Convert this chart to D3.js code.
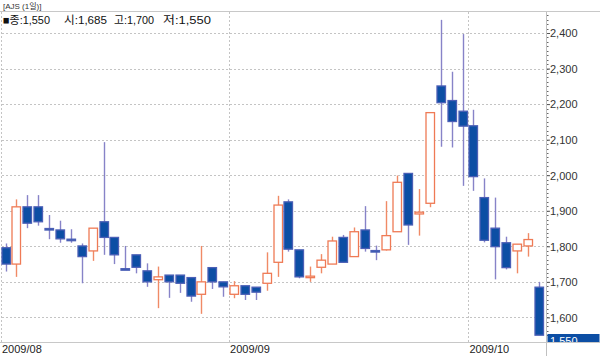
<!DOCTYPE html>
<html><head><meta charset="utf-8">
<script src="https://cdn.jsdelivr.net/npm/d3@7"></script>
<style>
html,body{margin:0;padding:0;background:#fff;}
svg{display:block;font-family:"Liberation Sans","Noto Sans CJK KR",sans-serif;}
</style></head><body>
<svg id="c" width="600" height="356"></svg>
<script>
// ---- data ----
const monthLabels = ["2009/08", "2009/09", "2009/10"];
const monthStartIndex = [0, 21, 43];
const opens  = [1796,1750,1911,1911,1850,1846,1820,1801,1787,1869,1825,1737,1776,1731,1706,1719,1719,1712,1665,1740,1700,
                1665,1689,1685,1696,1755,1925,1790,1715,1741,1750,1825,1771,1846,1788,1790,1841,2005,1891,1921,2251,2210,2180,
                2139,1937,1851,1810,1787,1801,1685];
const highs  = [1808,1932,1944,1944,1888,1872,1848,1808,1851,2093,1826,1801,1776,1752,1743,1719,1719,1712,1801,1740,1700,
                1702,1689,1685,1783,1942,1932,1790,1743,1778,1827,1832,1853,1913,1802,1927,1999,2005,1961,2176,2437,2291,2397,
                2184,1991,1937,1827,1806,1837,1700];
const lows   = [1729,1714,1851,1858,1820,1810,1810,1696,1759,1776,1750,1735,1724,1686,1626,1655,1669,1644,1610,1680,1658,
                1654,1649,1649,1675,1714,1785,1710,1700,1724,1750,1755,1771,1785,1761,1788,1841,1804,1830,1910,2080,2078,1970,
                1956,1811,1707,1735,1724,1771,1550];
const closes = [1750,1911,1865,1869,1846,1821,1817,1771,1851,1825,1776,1735,1741,1700,1714,1700,1696,1660,1700,1700,1686,
                1689,1665,1671,1724,1916,1792,1714,1716,1761,1815,1755,1841,1794,1786,1830,1980,1860,1896,2176,2204,2151,2138,
                1996,1817,1799,1740,1806,1819,1550];
const yTicks = [1600,1700,1800,1900,2000,2100,2200,2300,2400];
const titleText = "[AJS (1일)]";
const legendItems = ["■종:1,550", "시:1,685", "고:1,700", "저:1,550"];
const lastLabel = "1,550";

// ---- layout ----
const svg = d3.select("#c");
const W = 600, H = 356;
const plotTop = 12, plotBottom = 342, axisX = 546;
const idx = d3.range(opens.length);
const x = d3.scaleBand().domain(idx).range([0.6, 543.7]).paddingInner(0.08).paddingOuter(0);
const y = d3.scaleLinear().domain([1600, 2400]).range([317.4, 33]);

const blueFill = "#0c4ea4", blueStroke = "#4b5fb6", blueWick = "#8783c8";
const upStroke = "#ef7a55", upWick = "#f08a66";
const gridCol = "#c4c4c4";

// header
svg.append("line").attr("x1",0).attr("x2",W).attr("y1",11.5).attr("y2",11.5).attr("stroke","#c8c8c8");
svg.append("text").attr("x",3).attr("y",9).attr("font-size",8).attr("fill","#333").text(titleText);

// clip for plot
svg.append("clipPath").attr("id","pc").append("rect")
  .attr("x",0).attr("y",plotTop).attr("width",axisX).attr("height",plotBottom-plotTop);

const g = svg.append("g");
// horizontal grid
g.selectAll(".hg").data(yTicks).enter().append("line")
  .attr("x1",2).attr("x2",axisX).attr("y1",d=>Math.round(y(d))+0.5).attr("y2",d=>Math.round(y(d))+0.5)
  .attr("stroke",gridCol).attr("stroke-dasharray","2,2");
// vertical grid at month starts
g.selectAll(".vg").data(monthStartIndex).enter().append("line")
  .attr("x1",d=> d===0 ? 1.5 : Math.round(x(d))+0.5).attr("x2",d=> d===0 ? 1.5 : Math.round(x(d))+0.5)
  .attr("y1",plotTop).attr("y2",plotBottom)
  .attr("stroke",gridCol).attr("stroke-dasharray","2,2");

// legend
const legendX = [3, 64, 114, 163];
const legendW = [47, 43, 40, 48];
svg.selectAll(".lg").data(legendItems).enter().append("text")
  .attr("x",(d,i)=>legendX[i]).attr("y",23.5).attr("font-size",11.5).attr("fill","#111")
  .attr("textLength",(d,i)=>legendW[i]).attr("lengthAdjust","spacingAndGlyphs").text(d=>d);

// candles
const cg = svg.append("g").attr("clip-path","url(#pc)");
const cs = cg.selectAll(".cd").data(idx).enter().append("g");
cs.append("line")
  .attr("x1",i=>Math.round(x(i)+x.bandwidth()/2)+0.5).attr("x2",i=>Math.round(x(i)+x.bandwidth()/2)+0.5)
  .attr("y1",i=>y(highs[i])).attr("y2",i=>y(lows[i]))
  .attr("stroke",i=>closes[i]>=opens[i]?upWick:blueWick).attr("stroke-width",1.4);
cs.append("rect")
  .attr("x",i=>Math.round(x(i))+1).attr("width",x.bandwidth()-1.5)
  .attr("y",i=>y(Math.max(opens[i],closes[i])))
  .attr("height",i=>Math.max(1.5, Math.abs(y(opens[i])-y(closes[i]))))
  .attr("fill",i=>closes[i]>=opens[i]?"#fff":blueFill)
  .attr("stroke",i=>closes[i]>=opens[i]?upStroke:blueStroke).attr("stroke-width",1.3);

// frame lines
svg.append("line").attr("x1",axisX+0.5).attr("x2",axisX+0.5).attr("y1",plotTop).attr("y2",H).attr("stroke","#c0c0c0");
svg.append("line").attr("x1",0).attr("x2",W).attr("y1",plotBottom+0.5).attr("y2",plotBottom+0.5).attr("stroke","#c8c8c8");

// right axis: minor ticks and labels
const minor = d3.range(1550, 2450.1, 12.5);
svg.selectAll(".mt").data(minor).enter().append("line")
  .attr("x1",axisX+1).attr("x2",axisX+2.5).attr("y1",d=>Math.round(y(d))+0.5).attr("y2",d=>Math.round(y(d))+0.5)
  .attr("stroke","#666").filter(d=>y(d)<plotTop||y(d)>plotBottom).remove();
const ax = svg.append("g").attr("transform",`translate(${axisX+1},0)`)
  .call(d3.axisRight(y).tickValues(yTicks).tickSize(3).tickPadding(0).tickFormat(d3.format(",")));
ax.select(".domain").remove();
ax.selectAll(".tick line").attr("stroke","#555");
ax.selectAll(".tick text").attr("font-size",11).attr("fill","#333")
  .attr("font-family","'Liberation Sans',sans-serif").attr("dy","0.35em");

// last price tag
svg.append("clipPath").attr("id","tagc").append("rect").attr("x",axisX+1).attr("y",334).attr("width",53).attr("height",8);
svg.append("rect").attr("x",axisX+1.5).attr("y",334).attr("width",52).attr("height",8).attr("fill",blueFill);
svg.append("text").attr("clip-path","url(#tagc)").attr("x",axisX+4).attr("y",345).attr("font-size",11)
  .attr("fill","#fff").text(lastLabel);

// month labels
svg.selectAll(".ml").data(monthLabels).enter().append("text")
  .attr("x",(d,i)=> monthStartIndex[i]===0 ? 2 : x(monthStartIndex[i])+1).attr("y",353)
  .attr("font-size",11).attr("fill","#222").text(d=>d);
</script>
</body></html>
